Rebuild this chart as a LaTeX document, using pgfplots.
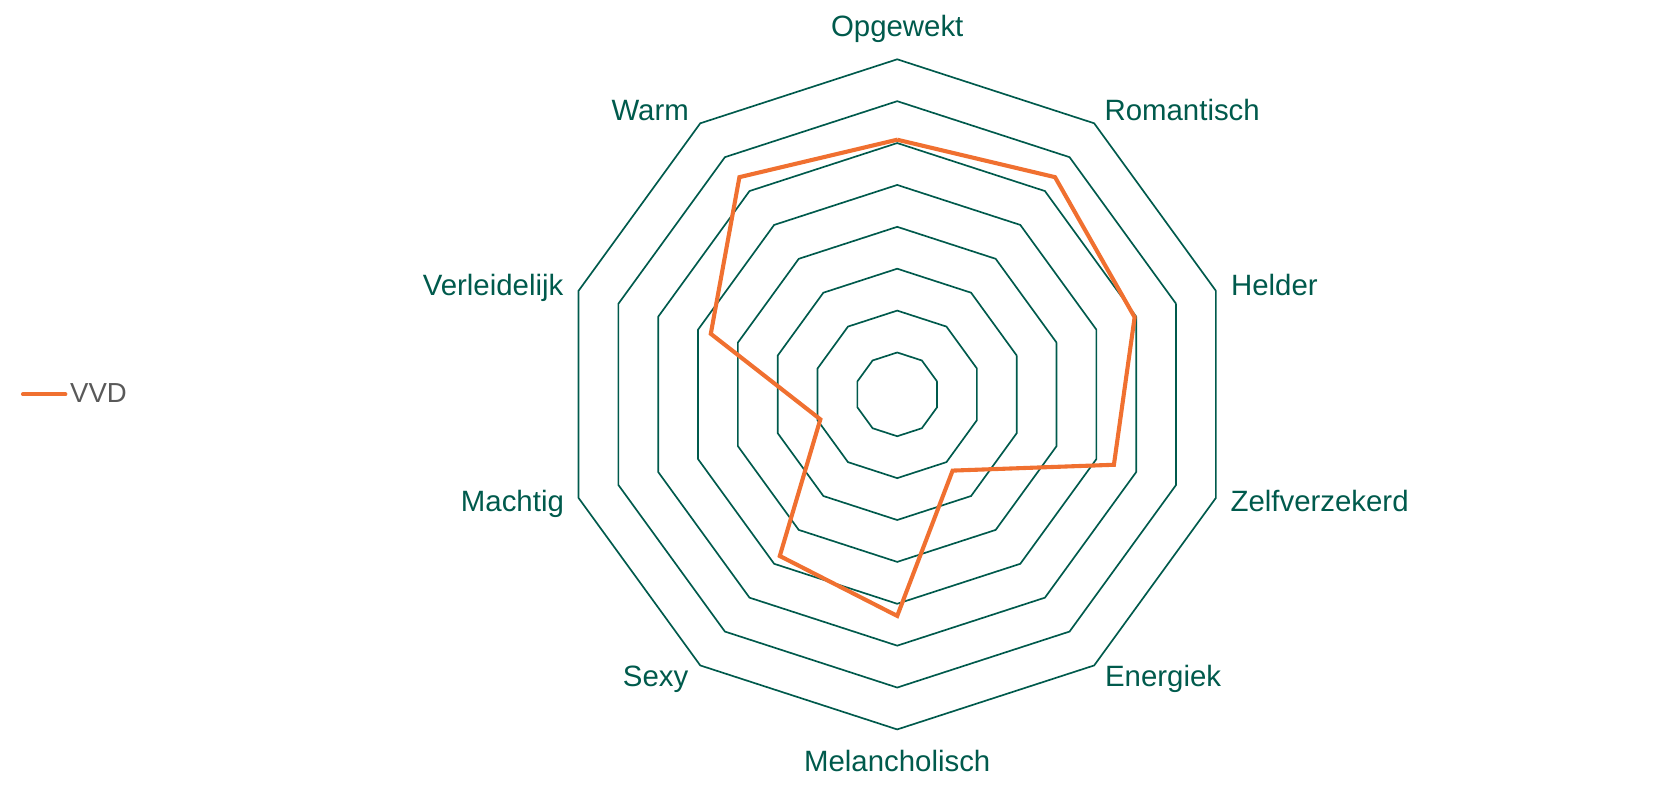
\documentclass[border=0pt]{standalone}
\usepackage{pgfplots}
\pgfplotsset{compat=1.18}
\usepgfplotslibrary{polar}
\usepackage{fontspec}
\setmainfont{Liberation Sans}

\definecolor{gridgreen}{RGB}{0,90,76}
\definecolor{vvdorange}{RGB}{240,112,48}
\definecolor{legendgrey}{RGB}{89,89,89}

\begin{document}
\begin{tikzpicture}[lbl/.style={font=\fontsize{15.8}{18}\selectfont, text=gridgreen, inner sep=0pt}]
\begin{polaraxis}[
    width=12.66cm, height=12.66cm,
    scale only axis,
    ymin=0, ymax=8,
    xmin=0, xmax=360,
    clip=false,
    axis line style={draw=none},
    grid=none,
    ytick=\empty,
    xtick=\empty,
    legend style={at={(-0.8165,0.5)}, anchor=west, draw=none, fill=none,
        font=\fontsize{14.8}{18}\selectfont, text=legendgrey,
        nodes={inner sep=1.5pt}},
    legend image code/.code={\draw[#1, line cap=round] (0cm,0cm) -- (0.8cm,0cm);},
]
  \pgfplotsinvokeforeach{1,...,8}{
    \addplot[gridgreen, line width=0.9pt, forget plot] coordinates {
      (18,#1) (54,#1) (90,#1) (126,#1) (162,#1) (198,#1) (234,#1) (270,#1) (306,#1) (342,#1) (18,#1)};
  }
  \addplot[vvdorange, line width=2.2pt, line join=miter] coordinates {
    (90,6.08) (54,6.41) (18,5.96) (342,5.44) (306,2.25) (270,5.29)
    (234,4.77) (198,1.93) (162,4.68) (126,6.41) (90,6.08)};
  \addlegendentry{VVD}
  \coordinate (c) at (axis cs:0,0);
  % category labels
  \node[lbl, anchor=base, yshift=0.434cm] at (axis cs:90,8) {Opgewekt};
  \node[lbl, anchor=base west, xshift=0.19cm, yshift=0.05cm] at (axis cs:54,8) {Romantisch};
  \node[lbl, anchor=base east, xshift=-0.21cm, yshift=0.05cm] at (axis cs:126,8) {Warm};
  \node[lbl, anchor=base west, xshift=0.28cm, yshift=-0.09cm] at (axis cs:18,8) {Helder};
  \node[lbl, anchor=base east, xshift=-0.28cm, yshift=-0.09cm] at (axis cs:162,8) {Verleidelijk};
  \node[lbl, anchor=base west, xshift=0.27cm, yshift=-0.25cm] at (axis cs:342,8) {Zelfverzekerd};
  \node[lbl, anchor=base east, xshift=-0.27cm, yshift=-0.25cm] at (axis cs:198,8) {Machtig};
  \node[lbl, anchor=base west, xshift=0.2cm, yshift=-0.39cm] at (axis cs:306,8) {Energiek};
  \node[lbl, anchor=base east, xshift=-0.22cm, yshift=-0.39cm] at (axis cs:234,8) {Sexy};
  \node[lbl, anchor=base, yshift=-0.80cm] at (axis cs:270,8) {Melancholisch};
\end{polaraxis}
\pgfresetboundingbox
\path[use as bounding box] (c) ++(-16.95cm,-7.38cm) rectangle ++(31.36cm,14.83cm);
\end{tikzpicture}
\end{document}
